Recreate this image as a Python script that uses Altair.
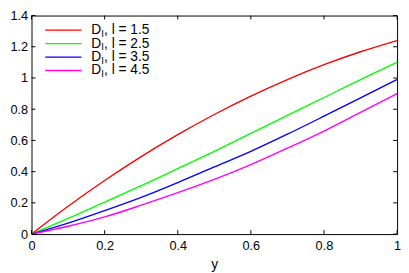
import altair as alt
import pandas as pd

xs = [0.0, 0.1, 0.2, 0.3, 0.4, 0.5, 0.6, 0.7, 0.8, 0.9, 1.0]
red = [0.0, 0.178, 0.343, 0.496, 0.637, 0.766, 0.884, 0.990, 1.085, 1.168, 1.240]
green = [0.0, 0.100, 0.205, 0.310, 0.420, 0.530, 0.645, 0.760, 0.875, 0.990, 1.100]
blue = [0.0, 0.070, 0.150, 0.235, 0.330, 0.430, 0.530, 0.640, 0.755, 0.872, 0.990]
magenta = [0.0, 0.050, 0.110, 0.185, 0.265, 0.350, 0.445, 0.550, 0.660, 0.780, 0.900]

l_values = ["1.5", "2.5", "3.5", "4.5"]
colors = ["#ff0000", "#00ff00", "#0000ff", "#ff00ff"]
x_ticks = [0, 0.2, 0.4, 0.6, 0.8, 1.0]
y_ticks = [0, 0.2, 0.4, 0.6, 0.8, 1.0, 1.2, 1.4]

W, H = 373, 223
FONT = "Liberation Sans"

rows = []
for lv, ser in zip(l_values, [red, green, blue, magenta]):
    for xv, yv in zip(xs, ser):
        rows.append({"x": xv, "v": yv, "l": lv})
df = pd.DataFrame(rows)

xscale = alt.Scale(domain=[0, 1], nice=False, zero=False)
yscale = alt.Scale(domain=[0, 1.4], nice=False, zero=False)
cscale = alt.Scale(domain=l_values, range=colors)

xaxis = alt.Axis(values=x_ticks, format="~g", grid=False, ticks=False, tickSize=0,
                 domain=False, labelPadding=6, titlePadding=5, labelOverlap=False,
                 labelFlush=False)
yaxis = alt.Axis(values=y_ticks, format="~g", grid=False, ticks=False, tickSize=0,
                 domain=False, labelPadding=4, labelOverlap=False, labelFlush=False)

lines = alt.Chart(df).mark_line(strokeWidth=1.4, interpolate="monotone", clip=True).encode(
    x=alt.X("x:Q", scale=xscale, title="y", axis=xaxis),
    y=alt.Y("v:Q", scale=yscale, title=None, axis=yaxis),
    color=alt.Color("l:N", scale=cscale, legend=None),
)

xt = pd.DataFrame({"t": x_ticks})
yt = pd.DataFrame({"t": y_ticks})
tick_color = "#000000"
tb = alt.Chart(xt).mark_rule(color=tick_color, strokeWidth=1).encode(
    x=alt.X("t:Q", scale=xscale, title="y", axis=xaxis), y=alt.value(H), y2=alt.value(H - 4))
tt = alt.Chart(xt).mark_rule(color=tick_color, strokeWidth=1).encode(
    x=alt.X("t:Q", scale=xscale, title="y", axis=xaxis), y=alt.value(0), y2=alt.value(4))
tl = alt.Chart(yt).mark_rule(color=tick_color, strokeWidth=1).encode(
    y=alt.Y("t:Q", scale=yscale, title=None, axis=yaxis), x=alt.value(0), x2=alt.value(4))
tr = alt.Chart(yt).mark_rule(color=tick_color, strokeWidth=1).encode(
    y=alt.Y("t:Q", scale=yscale, title=None, axis=yaxis), x=alt.value(W), x2=alt.value(W - 4))

main = alt.layer(lines, tb, tt, tl, tr)

leg_df = pd.DataFrame({"l": l_values, "rest": [", l = " + v for v in l_values]})
ly = alt.Y("l:N", scale=alt.Scale(domain=l_values, range=[8, 63], padding=0), axis=None)
leg_lines = alt.Chart(leg_df).mark_rule(strokeWidth=1.4).encode(
    x=alt.value(14), x2=alt.value(51), y=ly,
    color=alt.Color("l:N", scale=cscale, legend=None))
leg_d = alt.Chart(leg_df).mark_text(text="D", align="left", baseline="middle",
                                    font=FONT, fontSize=14, color="black").encode(
    x=alt.value(61), y=ly)
leg_sub = alt.Chart(leg_df).mark_text(text="l", align="left", baseline="middle",
                                      font=FONT, fontSize=10, color="black", dy=4).encode(
    x=alt.value(71.3), y=ly)
leg_rest = alt.Chart(leg_df).mark_text(align="left", baseline="middle",
                                       font=FONT, fontSize=14, color="black").encode(
    x=alt.value(74), y=ly, text="rest:N")
legend = alt.layer(leg_lines, leg_d, leg_sub, leg_rest)

chart = alt.layer(main, legend).resolve_scale(y="independent").properties(
    width=W, height=H,
    background="white",
    autosize=alt.AutoSizeParams(type="none"),
    padding={"left": 24, "top": 5, "right": 4, "bottom": 37},
).configure_view(stroke="black", strokeWidth=1).configure_axis(
    labelFont=FONT, labelFontSize=13, labelColor="black",
    titleFont=FONT, titleFontSize=14, titleFontWeight="normal", titleColor="black",
)

chart.save("out.html", embed_options={"renderer": "svg", "actions": False})
